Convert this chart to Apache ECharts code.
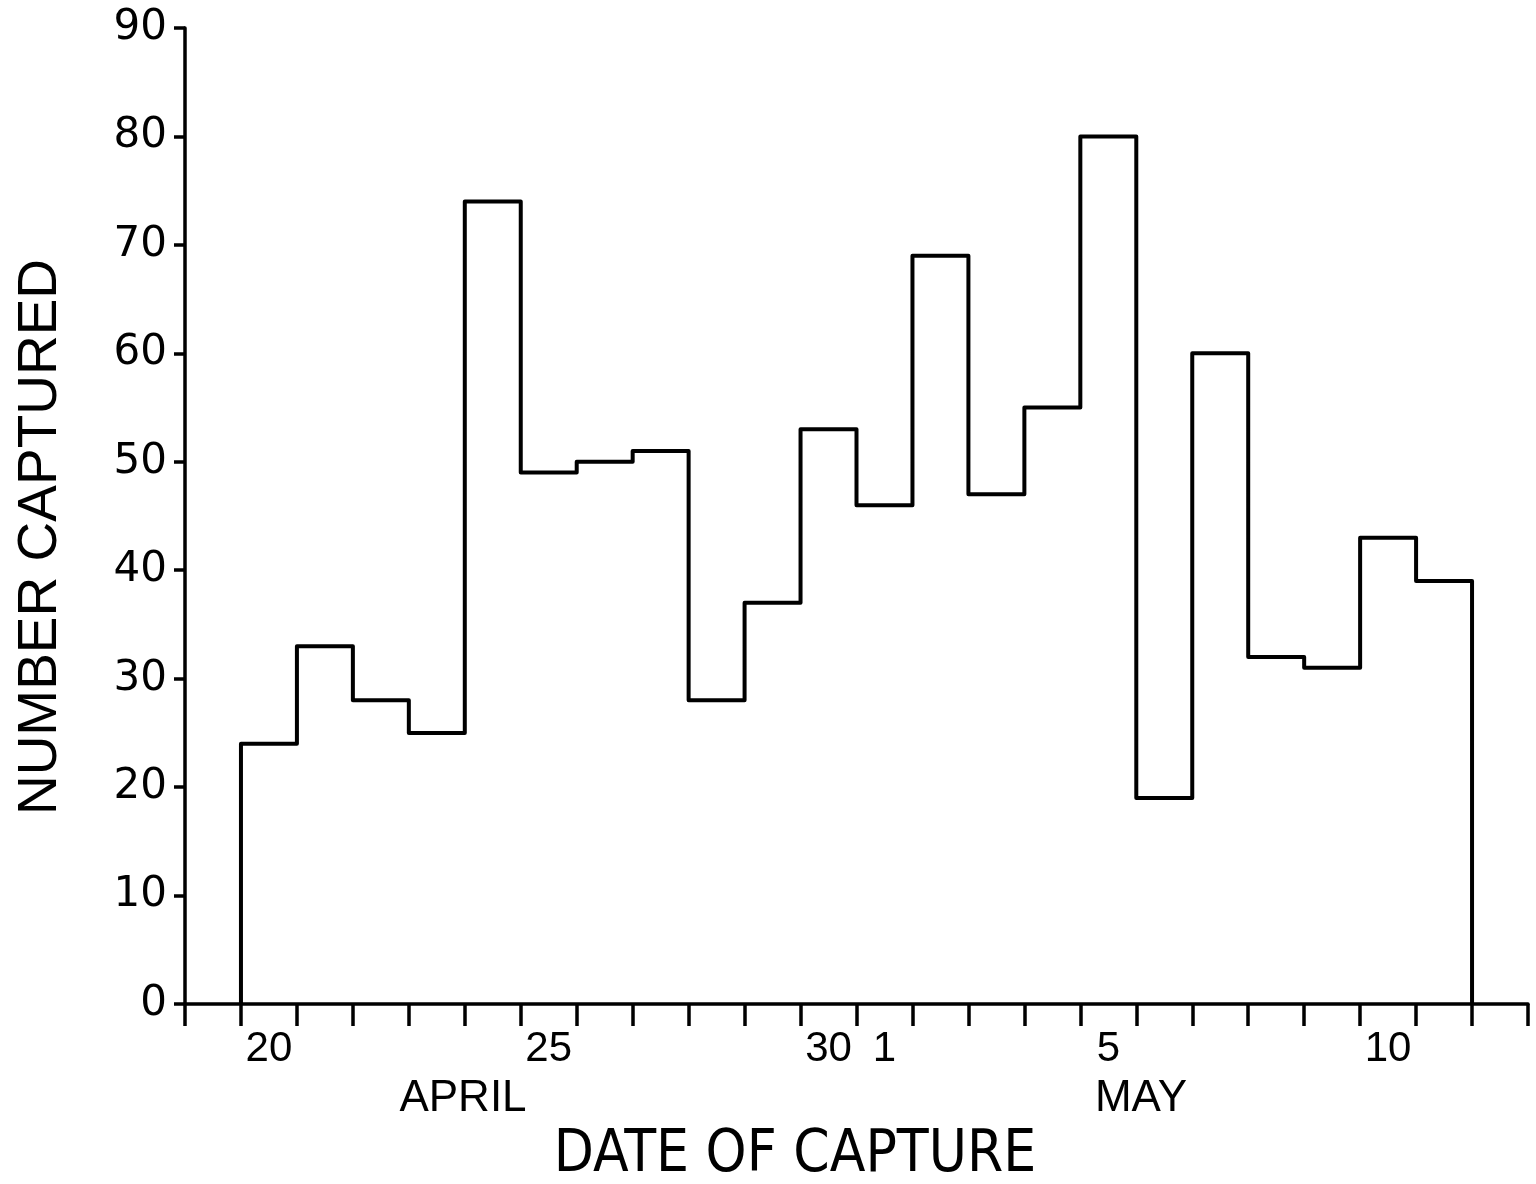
<!DOCTYPE html>
<html>
<head>
<meta charset="utf-8">
<script src="https://cdn.jsdelivr.net/npm/echarts@6/dist/echarts.min.js"></script>
<style>
html,body{margin:0;padding:0;background:#fff;}
#chart{width:1536px;height:1184px;}
</style>
</head>
<body>
<div id="chart"></div>
<script>
// One category per day (an empty day on each side of the data)
const days = ['19','20','21','22','23','24','25','26','27','28','29','30',
              '1','2','3','4','5','6','7','8','9','10','11','12'];
// Days that carry a tick label
const shownLabels = ['20','25','30','1','5','10'];
// Number captured, 20 April .. 11 May
const firstDay = '20';
const counts = [24,33,28,25,74,49,50,51,28,37,53,46,69,47,55,80,19,60,32,31,43,39];
const yTicks = [0,10,20,30,40,50,60,70,80,90];

const chart = echarts.init(document.getElementById('chart'), null, {renderer:'canvas'});

// step outline built from the counts (x in day-bin units on a hidden value axis)
const start = days.indexOf(firstDay);
const outline = [[start, 0]];
counts.forEach((v, i) => { outline.push([start + i, v]); outline.push([start + i + 1, v]); });
outline.push([start + counts.length, 0]);

const ink = '#000';
const tickFont = "'Liberation Sans', Arial, sans-serif";

chart.setOption({
  animation: false,
  backgroundColor: '#fff',
  grid: {left: 185, right: 8, top: 28, bottom: 180, containLabel: false},
  xAxis: [
    {
      type: 'category',
      data: days,
      boundaryGap: true,
      axisLine: {show: true, lineStyle: {color: ink, width: 3.5}},
      axisTick: {show: true, interval: 0, length: 22, lineStyle: {color: ink, width: 3.5}},
      axisLabel: {
        interval: 0, margin: 24, color: ink, fontSize: 42, fontFamily: tickFont,
        formatter: v => shownLabels.includes(v) ? v : ''
      },
      splitLine: {show: false}
    },
    {
      type: 'value', min: 0, max: days.length, show: false
    }
  ],
  yAxis: {
    type: 'value',
    min: yTicks[0], max: yTicks[yTicks.length - 1], interval: 10,
    axisLine: {show: true, lineStyle: {color: ink, width: 3.5}},
    axisTick: {show: true, length: 11, lineStyle: {color: ink, width: 3.5}},
    axisLabel: {margin: 18, color: ink, fontSize: 42, fontFamily: "'DejaVu Sans', sans-serif"},
    splitLine: {show: false}
  },
  series: [{
    type: 'line',
    xAxisIndex: 1,
    data: outline,
    showSymbol: false,
    symbol: 'none',
    lineStyle: {color: ink, width: 4, join: 'round'},
    z: 5
  }],
  graphic: [
    {type: 'text', x: 41, y: 537, rotation: Math.PI / 2,
     style: {text: 'NUMBER CAPTURED', font: "55px 'Liberation Sans', Arial, sans-serif", fill: ink,
             textAlign: 'center', textVerticalAlign: 'middle'}},
    {type: 'text', x: 795, y: 1156,
     style: {text: 'DATE OF CAPTURE', font: "58px 'DejaVu Sans Condensed', 'Liberation Sans', sans-serif", fill: ink,
             textAlign: 'center', textVerticalAlign: 'middle'}},
    {type: 'text', x: 463, y: 1099,
     style: {text: 'APRIL', font: "44px 'Liberation Sans', Arial, sans-serif", fill: ink,
             textAlign: 'center', textVerticalAlign: 'middle'}},
    {type: 'text', x: 1141, y: 1099,
     style: {text: 'MAY', font: "44px 'Liberation Sans', Arial, sans-serif", fill: ink,
             textAlign: 'center', textVerticalAlign: 'middle'}}
  ]
});
</script>
</body>
</html>
